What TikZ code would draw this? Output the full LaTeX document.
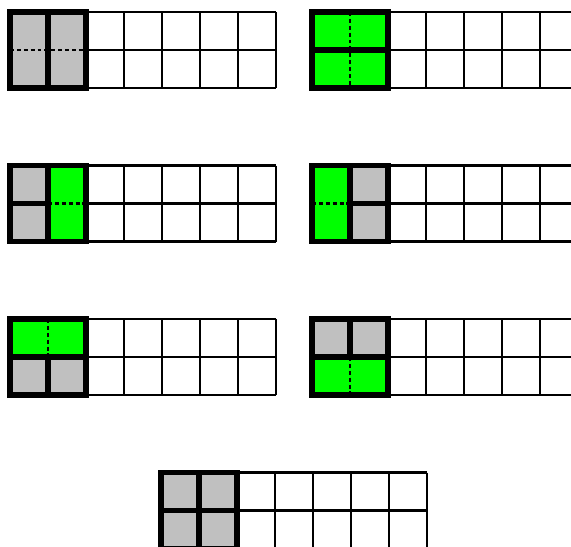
\documentclass[tikz,border=0pt]{standalone}
\usepackage{tikz}
\usepackage{xcolor}
\definecolor{domgreen}{RGB}{0,255,0}
\definecolor{domgray}{RGB}{192,192,192}

\begin{document}
\begin{tikzpicture}[x=0.025cm, y=-0.025cm,
    thinline/.style={line width=1.5pt},
    thickline/.style={line width=3.6pt, line cap=rect},
    splitline/.style={line width=1.8pt, dash pattern=on 2.8pt off 2.1pt}]

    \def\Cell{38}

    % page frame (the last board runs off the bottom, the right ones off the side)
    \useasboundingbox (0,0) rectangle (571,546);
    \clip (0,0) rectangle (571,546);

    % Boards: corner x / corner y
    \foreach \bx/\by in {10/12, 312/12, 10/165.5, 312/165.5, 10/319, 312/319, 161/472.5} {
      \begin{scope}[shift={(\bx,\by)}]
        \foreach \i in {2,...,7}
          \draw[thinline] (\i*\Cell,0) -- (\i*\Cell,2*\Cell);
        \foreach \j in {0,1,2}
          \draw[thinline] (2*\Cell,\j*\Cell) -- (7*\Cell,\j*\Cell);
      \end{scope}
    }

    % Board 1: two upright grey dominoes
    \begin{scope}[shift={(10,12)}]
      \fill[domgray] (0,0) rectangle (2*\Cell,2*\Cell);
      \draw[splitline] (0,\Cell) -- (2*\Cell,\Cell);
      \draw[thickline] (\Cell,0) -- (\Cell,2*\Cell);
      \draw[thickline] (0,0) rectangle (2*\Cell,2*\Cell);
    \end{scope}

    % Board 2: two lying green dominoes
    \begin{scope}[shift={(312,12)}]
      \fill[domgreen] (0,0) rectangle (2*\Cell,2*\Cell);
      \draw[splitline] (\Cell,0) -- (\Cell,2*\Cell);
      \draw[thickline] (0,\Cell) -- (2*\Cell,\Cell);
      \draw[thickline] (0,0) rectangle (2*\Cell,2*\Cell);
    \end{scope}

    % Board 3: grey squares left, green domino right
    \begin{scope}[shift={(10,165.5)}]
      \fill[domgray] (0,0) rectangle (\Cell,2*\Cell);
      \fill[domgreen] (\Cell,0) rectangle (2*\Cell,2*\Cell);
      \draw[splitline] (\Cell,\Cell) -- (2*\Cell,\Cell);
      \draw[thickline] (0,\Cell) -- (\Cell,\Cell);
      \draw[thickline] (\Cell,0) -- (\Cell,2*\Cell);
      \draw[thickline] (0,0) rectangle (2*\Cell,2*\Cell);
    \end{scope}

    % Board 4: green domino left, grey squares right
    \begin{scope}[shift={(312,165.5)}]
      \fill[domgreen] (0,0) rectangle (\Cell,2*\Cell);
      \fill[domgray] (\Cell,0) rectangle (2*\Cell,2*\Cell);
      \draw[splitline] (0,\Cell) -- (\Cell,\Cell);
      \draw[thickline] (\Cell,\Cell) -- (2*\Cell,\Cell);
      \draw[thickline] (\Cell,0) -- (\Cell,2*\Cell);
      \draw[thickline] (0,0) rectangle (2*\Cell,2*\Cell);
    \end{scope}

    % Board 5: green domino on top, grey squares below
    \begin{scope}[shift={(10,319)}]
      \fill[domgreen] (0,0) rectangle (2*\Cell,\Cell);
      \fill[domgray] (0,\Cell) rectangle (2*\Cell,2*\Cell);
      \draw[splitline] (\Cell,0) -- (\Cell,\Cell);
      \draw[thickline] (\Cell,\Cell) -- (\Cell,2*\Cell);
      \draw[thickline] (0,\Cell) -- (2*\Cell,\Cell);
      \draw[thickline] (0,0) rectangle (2*\Cell,2*\Cell);
    \end{scope}

    % Board 6: grey squares on top, green domino below
    \begin{scope}[shift={(312,319)}]
      \fill[domgray] (0,0) rectangle (2*\Cell,\Cell);
      \fill[domgreen] (0,\Cell) rectangle (2*\Cell,2*\Cell);
      \draw[splitline] (\Cell,\Cell) -- (\Cell,2*\Cell);
      \draw[thickline] (\Cell,0) -- (\Cell,\Cell);
      \draw[thickline] (0,\Cell) -- (2*\Cell,\Cell);
      \draw[thickline] (0,0) rectangle (2*\Cell,2*\Cell);
    \end{scope}

    % Board 7: four grey squares
    \begin{scope}[shift={(161,472.5)}]
      \fill[domgray] (0,0) rectangle (2*\Cell,2*\Cell);
      \draw[thickline] (\Cell,0) -- (\Cell,2*\Cell);
      \draw[thickline] (0,\Cell) -- (2*\Cell,\Cell);
      \draw[thickline] (0,0) rectangle (2*\Cell,2*\Cell);
    \end{scope}
\end{tikzpicture}
\end{document}
